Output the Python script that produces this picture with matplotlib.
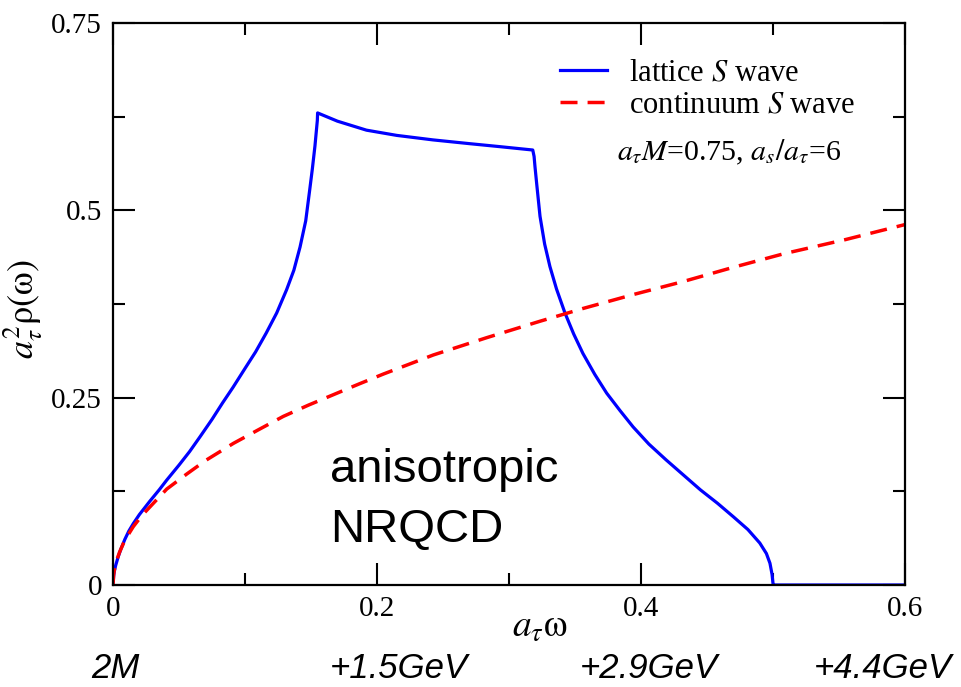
import matplotlib
matplotlib.use("Agg")
import matplotlib.pyplot as plt

plt.rcParams['font.family'] = ['Liberation Serif', 'DejaVu Serif']
plt.rcParams['mathtext.fontset'] = 'stix'

# lattice S wave
lat_x = [0.0, 0.0005, 0.001, 0.002, 0.004, 0.006, 0.009, 0.012, 0.0154, 0.02,
         0.028, 0.035, 0.0407, 0.05, 0.058, 0.066, 0.075, 0.083, 0.091, 0.1,
         0.108, 0.116, 0.124, 0.1315, 0.137, 0.1417, 0.146, 0.149, 0.151, 0.153,
         0.154, 0.1548, 0.155,
         0.17, 0.192, 0.215, 0.2424, 0.27, 0.293, 0.318,
         0.319, 0.3197, 0.321, 0.3235, 0.327, 0.331, 0.336, 0.3424, 0.349, 0.356,
         0.365, 0.374, 0.384, 0.394, 0.406, 0.419, 0.432, 0.445, 0.458, 0.470,
         0.481, 0.490, 0.495, 0.4977, 0.4993, 0.500, 0.501, 0.6]
lat_y = [0.0, 0.012, 0.018, 0.026, 0.038, 0.048, 0.061, 0.072, 0.082, 0.094,
         0.112, 0.127, 0.14, 0.16, 0.178, 0.198, 0.221, 0.243, 0.264, 0.289,
         0.311, 0.336, 0.363, 0.394, 0.42, 0.451, 0.486, 0.527, 0.555, 0.586,
         0.605, 0.62, 0.630,
         0.619, 0.607, 0.600, 0.594, 0.589, 0.585, 0.5805,
         0.572, 0.558, 0.535, 0.492, 0.455, 0.425, 0.395, 0.363, 0.335, 0.309,
         0.281, 0.256, 0.233, 0.211, 0.188, 0.167, 0.147, 0.127, 0.109, 0.091,
         0.074, 0.056, 0.042, 0.029, 0.014, 0.002, 0.0, 0.0]

# continuum S wave
con_x = [0.0, 0.0005, 0.001, 0.002, 0.0028, 0.005, 0.008, 0.0115, 0.0154, 0.022,
         0.03, 0.0407, 0.0558, 0.07, 0.0912, 0.11, 0.129, 0.148, 0.167, 0.186,
         0.2048, 0.2427, 0.283, 0.3235, 0.356, 0.395, 0.432, 0.47, 0.508, 0.555,
         0.6]
con_y = [0.0, 0.014, 0.02, 0.028, 0.033, 0.044, 0.056, 0.067, 0.078, 0.093,
         0.108, 0.128, 0.148, 0.166, 0.189, 0.207, 0.225, 0.240, 0.254, 0.268,
         0.2815, 0.307, 0.330, 0.352, 0.369, 0.388, 0.405, 0.424, 0.442, 0.461,
         0.481]

bottom_labels = ['2M', '+1.5GeV', '+2.9GeV', '+4.4GeV']
bottom_pos = [115, 399, 649, 883]

fig = plt.figure(figsize=(9.61, 6.87), dpi=100)
ax = fig.add_axes([113/961, 1 - 585/687, 792/961, 562/687])

ax.plot(lat_x, lat_y, color='#0000ff', lw=2.3, label='lattice $S$ wave')
ax.plot(con_x, con_y, color='#ff0000', lw=2.5, linestyle=(0, (4.9, 2.9)),
        label='continuum $S$ wave')

ax.set_xlim(0, 0.6)
ax.set_ylim(0, 0.75)
ax.set_xticks([0, 0.2, 0.4, 0.6])
ax.set_xticklabels(['0', '0.2', '0.4', '0.6'])
ax.set_xticks([0.1, 0.3, 0.5], minor=True)
ax.set_yticks([0, 0.25, 0.5, 0.75])
ax.set_yticklabels(['0', '0.25', '0.5', '0.75'])
ax.set_yticks([0.125, 0.375, 0.625], minor=True)
ax.tick_params(which='both', direction='in', top=True, right=True, width=1.5,
               labelsize=21)
ax.tick_params(which='major', length=16, pad=8)
ax.tick_params(which='minor', length=8.5)
for s in ax.spines.values():
    s.set_linewidth(1.6)

ax.set_xlabel(r'$a_{\tau}\mathrm{\omega}$', fontsize=27)
ax.xaxis.set_label_coords((540 - 113) / 792, -0.045)
ax.set_ylabel(r'$a_{\tau}^{2}\mathrm{\rho(\omega)}$', fontsize=26)
ax.yaxis.set_label_coords(-0.086, 0.49)

leg = ax.legend(loc='upper left', bbox_to_anchor=((560 - 113) / 792, 0.937),
                frameon=False, fontsize=22, borderpad=0, borderaxespad=0,
                handlelength=1.55, handletextpad=0.7, labelspacing=0.1)

ax.text((617 - 113) / 792, (585 - 160) / 562,
        r'$a_{\tau}M$=0.75, $a_{s}/a_{\tau}$=6', transform=ax.transAxes,
        fontsize=21.5, va='baseline')

ax.text(0.1644, 0.1375, 'anisotropic', fontsize=34, family='Liberation Sans',
        va='baseline')
ax.text(0.1644, 0.0574, 'NRQCD', fontsize=34, family='Liberation Sans',
        va='baseline')

for lab, px in zip(bottom_labels, bottom_pos):
    fig.text(px / 961, 1 - 668 / 687, lab, fontsize=25, style='italic',
             family='Liberation Sans', ha='center', va='center')

fig.savefig('out.png', dpi=100)
